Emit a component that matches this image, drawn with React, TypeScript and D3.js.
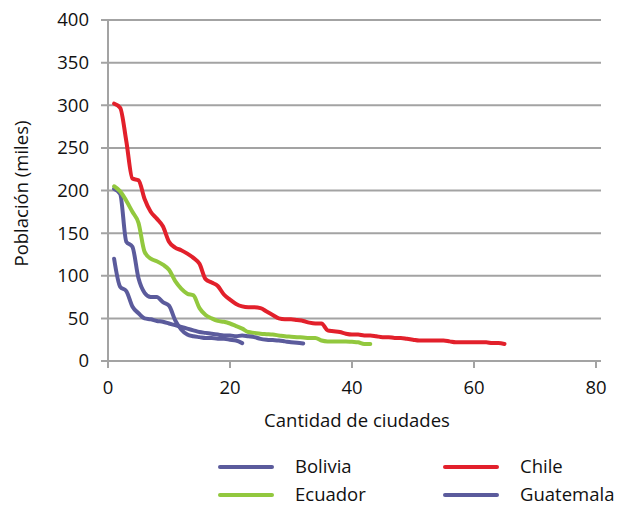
import React from "react";
import * as d3 from "d3";

const seriesNames = ["Bolivia", "Chile", "Ecuador", "Guatemala"];

const boliviaValues = [202, 196, 140, 134, 97, 80, 75, 75, 69, 65, 48, 37, 31, 29, 28, 27, 27, 26, 26, 25, 24, 21];

const chileValues = [
  302, 297, 258, 214, 212, 190, 175, 167, 158, 140, 133, 130, 126, 121, 114, 96, 92, 88, 78, 72,
  67, 64, 63, 63, 62, 58, 54, 50, 49, 49, 48, 47, 45, 44, 44, 36, 35, 34, 32, 31,
  31, 30, 30, 29, 28, 28, 27, 27, 26, 25, 24, 24, 24, 24, 24, 23, 22, 22, 22, 22,
  22, 22, 21, 21, 20,
];

const ecuadorValues = [
  205, 199, 188, 175, 162, 128, 120, 117, 113, 107, 94, 85, 79, 77, 62, 54, 50, 47, 46, 44,
  41, 38, 34, 33, 32, 31.5, 31, 30, 29, 28.5, 28, 27.5, 27, 27, 24, 23, 23, 23, 23, 22.5,
  22, 20, 20,
];

const guatemalaValues = [
  120, 87, 82, 64, 56, 50, 49, 47, 46, 44, 42, 40, 38, 36, 34, 33, 32, 31, 30, 30,
  29, 30, 29, 28, 26, 25, 24.5, 24, 23, 22, 21.5, 20.5,
];

const seriesValues = [boliviaValues, chileValues, ecuadorValues, guatemalaValues];
const seriesColors = ["#5b5b9c", "#e2202b", "#92c83e", "#5b5b9c"];

const xTicks = [0, 20, 40, 60, 80];
const yTicks = [0, 50, 100, 150, 200, 250, 300, 350, 400];

const xTitle = "Cantidad de ciudades";
const yTitle = "Población (miles)";

export default function App() {
  const width = 625;
  const height = 511;
  const x = d3.scaleLinear().domain([0, 80]).range([108, 596]);
  const y = d3.scaleLinear().domain([0, 400]).range([361, 20]);
  const line = d3
    .line<number>()
    .x((_, i) => x(i + 1))
    .y((v) => y(v))
    .curve(d3.curveMonotoneX);

  const font = "'Open Sans', sans-serif";
  const textColor = "#111";
  const gridColor = "#a3a3a3";
  const fs = 18.5;

  const legendItems = [
    { name: seriesNames[0], color: seriesColors[0], lx: 220, ly: 467 },
    { name: seriesNames[1], color: seriesColors[1], lx: 445, ly: 467 },
    { name: seriesNames[2], color: seriesColors[2], lx: 220, ly: 495 },
    { name: seriesNames[3], color: seriesColors[3], lx: 445, ly: 495 },
  ];

  return (
    <svg
      width={width}
      height={height}
      style={{ position: "absolute", left: 0, top: 0, background: "#fff" }}
      fontFamily={font}
    >
      {yTicks.map((t) => (
        <line
          key={"g" + t}
          x1={101}
          x2={601}
          y1={y(t)}
          y2={y(t)}
          stroke={gridColor}
          strokeWidth={2}
        />
      ))}
      <line x1={x(0)} x2={x(0)} y1={y(400)} y2={y(0) + 1} stroke={gridColor} strokeWidth={2} />
      {xTicks.map((t) => (
        <line
          key={"xt" + t}
          x1={x(t)}
          x2={x(t)}
          y1={y(0)}
          y2={y(0) + 7}
          stroke={gridColor}
          strokeWidth={2}
        />
      ))}
      {yTicks.map((t) => (
        <text
          key={"yl" + t}
          x={89}
          y={y(t)}
          dy="0.35em"
          textAnchor="end"
          fontSize={fs}
          fill={textColor}
        >
          {t}
        </text>
      ))}
      {xTicks.map((t) => (
        <text
          key={"xl" + t}
          x={x(t)}
          y={394}
          textAnchor="middle"
          fontSize={fs}
          fill={textColor}
        >
          {t}
        </text>
      ))}
      <text x={357} y={427} textAnchor="middle" fontSize={fs} fill={textColor}>
        {xTitle}
      </text>
      <text
        transform={`translate(28,${y(200) + 3}) rotate(-90)`}
        textAnchor="middle"
        fontSize={fs}
        fill={textColor}
      >
        {yTitle}
      </text>
      {seriesValues.map((vals, i) => (
        <path
          key={"s" + i}
          d={line(vals) || ""}
          fill="none"
          stroke={seriesColors[i]}
          strokeWidth={4}
          strokeLinecap="round"
          strokeLinejoin="round"
        />
      ))}
      {legendItems.map((it) => (
        <g key={"lg" + it.name}>
          <line
            x1={it.lx}
            x2={it.lx + 52}
            y1={it.ly}
            y2={it.ly}
            stroke={it.color}
            strokeWidth={4}
            strokeLinecap="round"
          />
          <text x={it.lx + 75} y={it.ly} dy="0.35em" fontSize={fs} fill={textColor}>
            {it.name}
          </text>
        </g>
      ))}
    </svg>
  );
}
